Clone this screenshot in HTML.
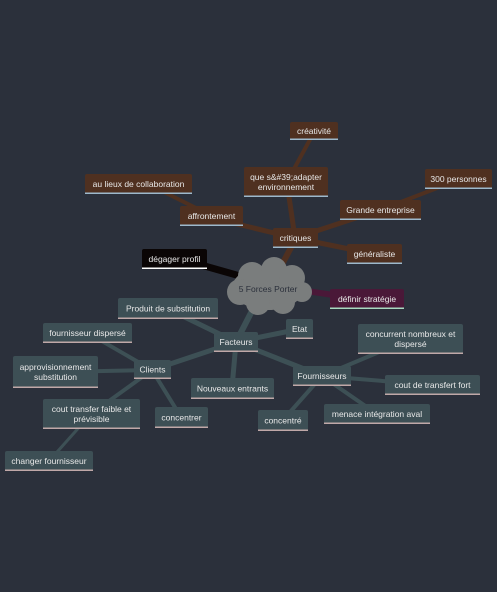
<!DOCTYPE html>
<html><head><meta charset="utf-8"><style>
html,body{margin:0;padding:0;background:#2b303b;}
svg{display:block;font-family:"Liberation Sans","DejaVu Sans",sans-serif;}
</style></head><body>
<svg width="497" height="592" viewBox="0 0 497 592">
<rect width="497" height="592" fill="#2b303b"/>
<g stroke="#4f3020" stroke-linecap="round">
<line x1="278" y1="272" x2="295" y2="240" stroke-width="6"/>
<line x1="295" y1="238" x2="212" y2="218" stroke-width="5"/>
<line x1="212" y1="216" x2="160" y2="190" stroke-width="4"/>
<line x1="295" y1="238" x2="288" y2="190" stroke-width="5"/>
<line x1="288" y1="180" x2="313" y2="134" stroke-width="4"/>
<line x1="295" y1="238" x2="380" y2="210" stroke-width="5"/>
<line x1="380" y1="210" x2="458" y2="180" stroke-width="4"/>
<line x1="295" y1="238" x2="374" y2="254" stroke-width="5"/>
</g>
<line x1="240" y1="276" x2="180" y2="259" stroke="#0a0505" stroke-width="7"/>
<line x1="300" y1="290" x2="360" y2="299" stroke="#4a1838" stroke-width="6"/>
<g stroke="#3d5055" stroke-linecap="round">
<line x1="255" y1="305" x2="236" y2="342" stroke-width="6"/>
<line x1="236" y1="342" x2="168" y2="309" stroke-width="5"/>
<line x1="236" y1="342" x2="300" y2="329" stroke-width="5"/>
<line x1="236" y1="342" x2="232" y2="388" stroke-width="5"/>
<line x1="236" y1="342" x2="152" y2="370" stroke-width="5"/>
<line x1="236" y1="342" x2="322" y2="376" stroke-width="5"/>
<line x1="152" y1="370" x2="88" y2="333" stroke-width="4"/>
<line x1="152" y1="370" x2="55" y2="372" stroke-width="4"/>
<line x1="152" y1="370" x2="91" y2="414" stroke-width="4"/>
<line x1="91" y1="414" x2="49" y2="461" stroke-width="3"/>
<line x1="152" y1="370" x2="181" y2="417" stroke-width="4"/>
<line x1="322" y1="376" x2="410" y2="339" stroke-width="4"/>
<line x1="322" y1="376" x2="432" y2="385" stroke-width="4"/>
<line x1="322" y1="376" x2="283" y2="420" stroke-width="4"/>
<line x1="322" y1="376" x2="377" y2="414" stroke-width="4"/>
</g>
<g fill="#7a7d7d">
<ellipse cx="268" cy="288" rx="36" ry="22"/>
<circle cx="252" cy="276" r="14"/><circle cx="274" cy="270" r="13"/><circle cx="292" cy="278" r="13"/>
<circle cx="302" cy="292" r="10"/><circle cx="240" cy="292" r="13"/><circle cx="258" cy="303" r="12"/><circle cx="283" cy="302" r="12"/>
<text x="268" y="292" font-size="8.5" fill="#2b303b" text-anchor="middle" stroke="none">5 Forces Porter</text>
</g>
<g font-size="8.5" fill="#e8e8e8" text-anchor="middle" id="nodes"></g>
</svg>
<script>
const nodes=[
["creativite",["créativité"],290,122,48,18,"#4f3020","#9db9cc"],
["que-sadapter",["que s&#39;adapter","environnement"],244,167,84,30,"#4f3020","#9db9cc"],
["au-lieux-de-collaboration",["au lieux de collaboration"],85,174,107,20,"#4f3020","#9db9cc"],
["300-personnes",["300 personnes"],425,169,67,20,"#4f3020","#9db9cc"],
["affrontement",["affrontement"],180,206,63,20,"#4f3020","#9db9cc"],
["grande-entreprise",["Grande entreprise"],340,200,81,20,"#4f3020","#9db9cc"],
["critiques",["critiques"],273,228,45,20,"#4f3020","#9db9cc"],
["generaliste",["généraliste"],347,244,55,20,"#4f3020","#9db9cc"],
["degager-profil",["dégager profil"],142,249,65,20,"#0a0505","#ffffff"],
["definir-strategie",["définir stratégie"],330,289,74,20,"#4a1838","#a8d8c0"],
["produit-de-substitution",["Produit de substitution"],118,298,100,21,"#3d4f55","#c0a8a8"],
["fournisseur-disperse",["fournisseur dispersé"],43,323,89,20,"#3d4f55","#c0a8a8"],
["facteurs",["Facteurs"],214,332,44,20,"#3d4f55","#c0a8a8"],
["etat",["Etat"],286,319,27,20,"#3d4f55","#c0a8a8"],
["concurrent-nombreux",["concurrent nombreux et","dispersé"],358,324,105,30,"#3d4f55","#c0a8a8"],
["approvisionnement",["approvisionnement","substitution"],13,356,85,32,"#3d4f55","#c0a8a8"],
["clients",["Clients"],134,360,37,19,"#3d4f55","#c0a8a8"],
["fournisseurs",["Fournisseurs"],293,366,58,20,"#3d4f55","#c0a8a8"],
["nouveaux-entrants",["Nouveaux entrants"],191,378,83,21,"#3d4f55","#c0a8a8"],
["cout-de-transfert-fort",["cout de transfert fort"],385,375,95,20,"#3d4f55","#c0a8a8"],
["cout-transfer-faible",["cout transfer faible et","prévisible"],43,399,97,30,"#3d4f55","#c0a8a8"],
["concentrer",["concentrer"],155,407,53,21,"#3d4f55","#c0a8a8"],
["concentre",["concentré"],258,410,50,21,"#3d4f55","#c0a8a8"],
["menace-integration-aval",["menace intégration aval"],324,404,106,20,"#3d4f55","#c0a8a8"],
["changer-fournisseur",["changer fournisseur"],5,451,88,20,"#3d4f55","#c0a8a8"]
];
const NS="http://www.w3.org/2000/svg",G=document.getElementById('nodes');
for(const [n,lines,x,y,w,h,bg,bd] of nodes){
const g=document.createElementNS(NS,'g');


const r=document.createElementNS(NS,'rect');
r.setAttribute('x',x);r.setAttribute('y',y);r.setAttribute('width',w);r.setAttribute('height',h);r.setAttribute('rx',2);r.setAttribute('fill',bg);
g.appendChild(r);
const b=document.createElementNS(NS,'rect');
b.setAttribute('x',x);b.setAttribute('y',y+h-1.5);b.setAttribute('width',w);b.setAttribute('height',1.5);b.setAttribute('fill',bd);
g.appendChild(b);
const lh=10,y0=y+h/2-(lines.length-1)*lh/2+3;
lines.forEach((t,i)=>{const tx=document.createElementNS(NS,'text');
tx.setAttribute('x',x+w/2);tx.setAttribute('y',y0+i*lh);tx.textContent=t;g.appendChild(tx);});
G.appendChild(g);}
</script>
</body></html>
